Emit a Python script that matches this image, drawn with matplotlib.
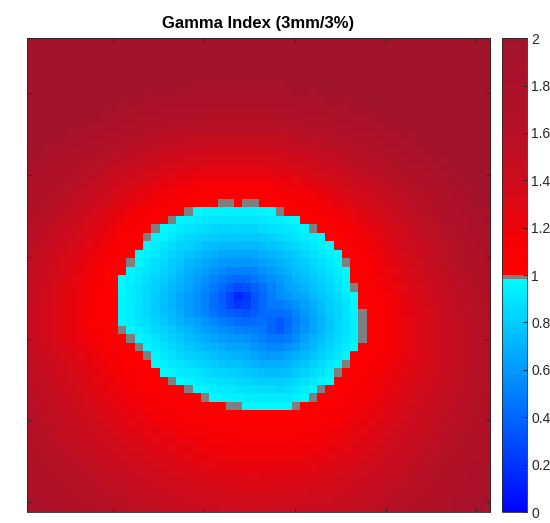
import matplotlib
matplotlib.use("Agg")
import matplotlib.pyplot as plt
import numpy as np
from matplotlib.colors import ListedColormap

# image grid (cells), columns / rows
n_cols = 56
n_rows = 56

# edge of the passing region (gamma = 1), in cell units
edge_col = [22.68, 25.86, 29.05, 29.93, 32.67, 35.09, 37.50, 39.15, 39.92, 41.02,
            41.02, 40.58, 39.15, 37.50, 34.76, 32.67, 29.05, 25.42, 22.24, 19.39,
            16.97, 14.99, 13.35, 11.70, 11.15, 11.15, 11.70, 12.91, 14.55, 16.97, 19.39]
edge_row = [20.04, 20.04, 20.04, 20.48, 21.36, 22.79, 24.77, 27.07, 29.49, 32.23,
            36.51, 36.95, 38.93, 40.91, 43.21, 44.42, 44.42, 44.20, 43.21, 41.68,
            40.58, 38.49, 36.51, 34.98, 34.21, 30.26, 28.50, 26.74, 24.33, 22.24, 21.03]
blob_center = (26.3, 32.3)
min_a = (26.3, 31.2)   # deepest blue
min_b = (31.0, 34.6)   # second, fainter dark spot
min_b_offset = 1.2     # how much shallower spot b is (cells)
outer_scale = 22.0     # cells from gamma=1 to gamma=2 outside (sideways)
outer_tilt = 0.3       # faster rise upward, slower downward

# colour stops of the red half of the colour scale (gamma, RGB)
red_stops = [1.0, 1.15, 1.35, 1.6, 2.0]
red_rgb = [(255, 0, 0), (245, 0, 5), (212, 10, 25), (182, 16, 38), (162, 20, 45)]

cbar_ticks = [0, 0.2, 0.4, 0.6, 0.8, 1, 1.2, 1.4, 1.6, 1.8, 2]
cbar_labels = ["0", "0.2", "0.4", "0.6", "0.8", "1", "1.2", "1.4", "1.6", "1.8", "2"]
x_ticks = [10.9, 21.8, 32.9, 43.9, 54.8]
y_ticks = [7.0, 16.7, 26.4, 36.1, 45.6, 55.3]

# build gamma map
X, Y = np.meshgrid(np.arange(1, n_cols + 1), np.arange(1, n_rows + 1))
cx, cy = blob_center
ex = np.array(edge_col) - cx
ey = np.array(edge_row) - cy
th = np.arctan2(ey, ex)
rad = np.hypot(ex, ey)
order = np.argsort(th)
theta = np.arctan2(Y - cy, X - cx)
R = np.interp(theta, th[order], rad[order], period=2 * np.pi)
r = np.hypot(X - cx, Y - cy)

d_a = np.hypot(X - min_a[0], Y - min_a[1])
d_b = np.hypot(X - min_b[0], Y - min_b[1]) + min_b_offset
d_min = np.minimum(d_a, d_b)
d_edge = np.clip(R - r, 0, None)
g_in = (d_min / (d_min + d_edge + 1e-9)) ** 0.55
S = outer_scale * (1 + outer_tilt * np.sin(theta))
g_out = 1 + (r - R) / S
gamma = np.where(r < R, g_in, g_out)

# colormap: blue -> cyan below 1, red -> dark red above 1
n = 128
v = (np.arange(n) + 0.5) / n * 2
colors = np.zeros((n, 3))
low = v < 1
colors[low] = np.column_stack([np.zeros(low.sum()), v[low], np.ones(low.sum())])
colors[n // 2 - 1] = [0.5, 0.5, 0.5]
hv = v[~low]
rgb = np.array(red_rgb) / 255
for k in range(3):
    colors[~low, k] = np.interp(hv, red_stops, rgb[:, k])
cmap = ListedColormap(colors)

fig = plt.figure(figsize=(5.5, 5.23), dpi=100)
ax = fig.add_axes([0.049, 0.021, 0.842, 0.906])
im = ax.imshow(gamma, cmap=cmap, vmin=0, vmax=2, interpolation="nearest",
               aspect="auto", extent=(0.5, n_cols + 0.5, n_rows + 0.5, 0.5))
ax.set_xticks(x_ticks)
ax.set_yticks(y_ticks)
ax.set_xticklabels([])
ax.set_yticklabels([])
ax.tick_params(direction="in", length=3, width=0.6, color="#262626",
               top=True, right=True)
for s in ax.spines.values():
    s.set_color("#262626")
    s.set_linewidth(0.6)
ax.set_title("Gamma Index (3mm/3%)", fontsize=12, fontweight="bold",
             family="Liberation Sans", pad=7)

cax = fig.add_axes([0.913, 0.021, 0.045, 0.906])
cb = fig.colorbar(im, cax=cax, ticks=cbar_ticks)
cb.ax.set_yticklabels(cbar_labels)
cb.ax.tick_params(direction="in", length=3, width=0.6, color="#262626",
                  labelsize=10, labelcolor="#262626", pad=3)
for lab in cb.ax.get_yticklabels():
    lab.set_family("Liberation Sans")
cb.outline.set_edgecolor("#262626")
cb.outline.set_linewidth(0.6)

fig.savefig("out.png", dpi=100)
